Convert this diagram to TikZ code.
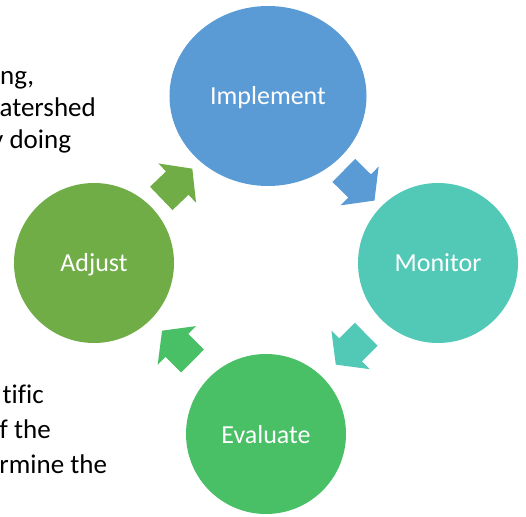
\documentclass[tikz,border=0pt]{standalone}
\usepackage{fontspec}
\setmainfont{Carlito}[Ligatures=NoCommon]
\usepackage{tikz}
\usetikzlibrary{shapes.geometric,shapes.arrows,calc}
\definecolor{implblue}{HTML}{5B9BD5}
\definecolor{monteal}{HTML}{52C9B7}
\definecolor{evalgreen}{HTML}{49BF66}
\definecolor{adjgreen}{HTML}{70AD47}

\begin{document}
\begin{tikzpicture}[x=1pt, y=1pt,
  stage/.style={circle, minimum size=160pt, inner sep=0pt, text=white,
    text height=18pt, text depth=0pt, font=\fontsize{26}{31}\selectfont},
  cyclearrow/.style={single arrow, minimum height=43pt, inner xsep=0pt, inner ysep=16pt,
    single arrow head extend=11pt, single arrow tip angle=105,
    sloped, allow upside down},
  sidetext/.style={anchor=base west, inner sep=0pt, font=\fontsize{27}{32}\selectfont}]
  \useasboundingbox (0,0) rectangle (526,516);

  % text cut off at the left edge
  \node[sidetext] (topa) at (0,431) {ng,};
  \node[sidetext] (topb) at (-0.6,399) {atershed};
  \node[sidetext] (topc) at (-9,367) {y doing};
  \node[sidetext] (bota) at (2.5,113) {tific};
  \node[sidetext] (botb) at (-0.5,78) {f the};
  \node[sidetext] (botc) at (-0.8,43) {rmine the};

  % stages of the cycle
  \node[stage, ellipse, minimum width=197pt, minimum height=180pt, fill=implblue] (impl) at (268,420) {Implement};
  \node[stage, fill=monteal] (mon) at (438,253) {Monitor};
  \node[stage, fill=evalgreen] (eval) at (266,82) {Evaluate};
  \node[stage, fill=adjgreen] (adj) at (94,253) {Adjust};

  % block arrows between stages
  \path (impl.center) -- node[cyclearrow, pos=0.51, fill=implblue] (arimpl) {} (mon.center);
  \path (mon.center) -- node[cyclearrow, pos=0.48, fill=monteal] (armon) {} (eval.center);
  \path (eval.center) -- node[cyclearrow, pos=0.49, fill=evalgreen] (areval) {} (adj.center);
  \path (adj.center) -- node[cyclearrow, pos=0.45, fill=adjgreen] (aradj) {} (impl.center);
\end{tikzpicture}
\end{document}
